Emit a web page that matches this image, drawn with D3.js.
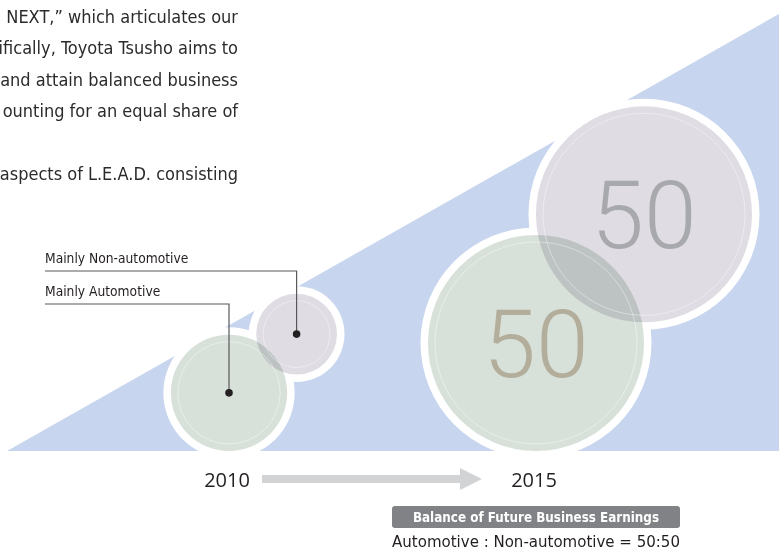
<!DOCTYPE html>
<html>
<head>
<meta charset="utf-8">
<script src="https://cdn.jsdelivr.net/npm/d3@7"></script>
<style>
  body { margin: 0; background: #fff; }
  svg { display: block; }
  .narrow { font-family: "Liberation Sans Narrow", "DejaVu Sans Condensed", sans-serif; }
</style>
</head>
<body>
<svg id="drawing_region"></svg>
<script>
// data
const years = [2010, 2015];
const segments = ["Mainly Automotive", "Mainly Non-automotive"];
// relative size of earnings (circle area)
const earnings2010 = [29, 14];
const earnings2015 = [100, 100];
const share2015 = [50, 50];
const boxTitle = "Balance of Future Business Earnings";
const balanceText = "Automotive : Non-automotive = 50:50";
const paragraphLines = [
  "NEXT,\u201D which articulates our",
  "ifically, Toyota Tsusho aims to",
  "and attain balanced business",
  "ounting for an equal share of",
  "",
  "aspects of L.E.A.D. consisting"
];

const W = 779, H = 556;
const base = 451; // bottom of the blue wedge

const svg = d3.select('#drawing_region')
  .attr('width', W)
  .attr('height', H);

// scales
const xscale = d3.scaleLinear().domain([2010, 2015]).range([229, 536]);
const rscale = d3.scaleSqrt().domain([0, 100]).range([0, 108]);

// how the non-automotive circle sits relative to the automotive one
const placement = [
  { angle: -41, overlap: 9 },
  { angle: -50, overlap: 48 }
];

const data = [];
years.forEach((y, i) => {
  const vals = i == 0 ? earnings2010 : earnings2015;
  const ra = rscale(vals[0]);
  const rn = rscale(vals[1]);
  const cx = xscale(y);
  const cy = base - ra;
  const dist = ra + rn - placement[i].overlap;
  const a = placement[i].angle * Math.PI / 180;
  data.push({ year: y, seg: segments[0], r: ra, cx: cx, cy: cy, share: i == 1 ? share2015[0] : null });
  data.push({ year: y, seg: segments[1], r: rn, cx: cx + dist * Math.cos(a), cy: cy + dist * Math.sin(a), share: i == 1 ? share2015[1] : null });
});

const fill = { "Mainly Automotive": "#d8e1d9", "Mainly Non-automotive": "#dfdce4" };
const numColor = { "Mainly Automotive": "#b3ae9b", "Mainly Non-automotive": "#a8a9ad" };

// paragraph (cut at left edge)
svg.append('g').attr('class', 'narrow')
  .selectAll('text')
  .data(paragraphLines)
  .join('text')
  .attr('x', 238)
  .attr('y', (d, i) => 23 + i * 31.4)
  .attr('text-anchor', 'end')
  .attr('font-size', 18)
  .attr('fill', '#2b2b2b')
  .text(d => d);

// blue wedge
svg.append('path')
  .attr('d', `M7,${base} L${W},14 L${W},${base} Z`)
  .attr('fill', '#c7d5ee');

const g = svg.append('g');

// white rims
g.selectAll('circle.rim')
  .data(data)
  .join('circle')
  .attr('class', 'rim')
  .attr('cx', d => d.cx)
  .attr('cy', d => d.cy)
  .attr('r', d => d.r + 7.5)
  .attr('fill', '#fff');

// coloured discs
g.selectAll('circle.disc')
  .data(data)
  .join('circle')
  .attr('class', 'disc')
  .attr('cx', d => d.cx)
  .attr('cy', d => d.cy)
  .attr('r', d => d.r)
  .attr('fill', d => fill[d.seg])
  .style('mix-blend-mode', 'multiply');

// faint inner ring
g.selectAll('circle.inner')
  .data(data)
  .join('circle')
  .attr('class', 'inner')
  .attr('cx', d => d.cx)
  .attr('cy', d => d.cy)
  .attr('r', d => d.r - 7)
  .attr('fill', 'none')
  .attr('stroke', '#fff')
  .attr('stroke-opacity', 0.5)
  .attr('stroke-width', 0.8);

// big numbers
g.selectAll('text.num')
  .data(data.filter(d => d.share != null))
  .join('text')
  .attr('class', 'num')
  .attr('x', d => d.cx)
  .attr('y', d => d.cy + 34)
  .attr('text-anchor', 'middle')
  .attr('font-family', 'Roboto, "Liberation Sans", sans-serif')
  .attr('font-weight', 300)
  .attr('font-size', 95)
  .attr('fill', d => numColor[d.seg])
  .text(d => d.share);

// callouts for 2010
const calloutY = { "Mainly Non-automotive": 271, "Mainly Automotive": 304 };
const callouts = data.filter(d => d.year == 2010);
const cg = svg.append('g');
cg.selectAll('path')
  .data(callouts)
  .join('path')
  .attr('d', d => `M45,${calloutY[d.seg]} H${d.cx} V${d.cy}`)
  .attr('fill', 'none')
  .attr('stroke', '#58595b')
  .attr('stroke-width', 1.2);
cg.selectAll('circle')
  .data(callouts)
  .join('circle')
  .attr('cx', d => d.cx)
  .attr('cy', d => d.cy)
  .attr('r', 3.8)
  .attr('fill', '#231f20');
cg.selectAll('text')
  .data(callouts)
  .join('text')
  .attr('class', 'narrow')
  .attr('x', 45)
  .attr('y', d => calloutY[d.seg] - 8)
  .attr('font-size', 13.7)
  .attr('fill', '#231f20')
  .text(d => d.seg);

// year labels
svg.append('g').selectAll('text')
  .data(years)
  .join('text')
  .attr('x', d => xscale(d) - 2)
  .attr('y', 487)
  .attr('text-anchor', 'middle')
  .attr('font-family', '"Open Sans", sans-serif')
  .attr('font-size', 20)
  .attr('fill', '#231f20')
  .text(d => d);

// arrow between the years
const ax0 = xscale(2010) + 33, ax1 = xscale(2015) - 54;
svg.append('path')
  .attr('d', `M${ax0},475 H${ax1 - 22} V468 L${ax1},479 L${ax1 - 22},490 V483 H${ax0} Z`)
  .attr('fill', '#d1d3d4');

// summary box
const bx = xscale(2015);
svg.append('rect')
  .attr('x', bx - 144)
  .attr('y', 506)
  .attr('width', 288)
  .attr('height', 22)
  .attr('rx', 3)
  .attr('fill', '#808285');
svg.append('text')
  .attr('class', 'narrow')
  .attr('x', bx)
  .attr('y', 522)
  .attr('text-anchor', 'middle')
  .attr('font-size', 13.3)
  .attr('font-weight', 'bold')
  .attr('fill', '#fff')
  .text(boxTitle);
svg.append('text')
  .attr('class', 'narrow')
  .attr('x', bx)
  .attr('y', 547)
  .attr('text-anchor', 'middle')
  .attr('font-size', 16.7)
  .attr('fill', '#231f20')
  .text(balanceText);
</script>
</body>
</html>
